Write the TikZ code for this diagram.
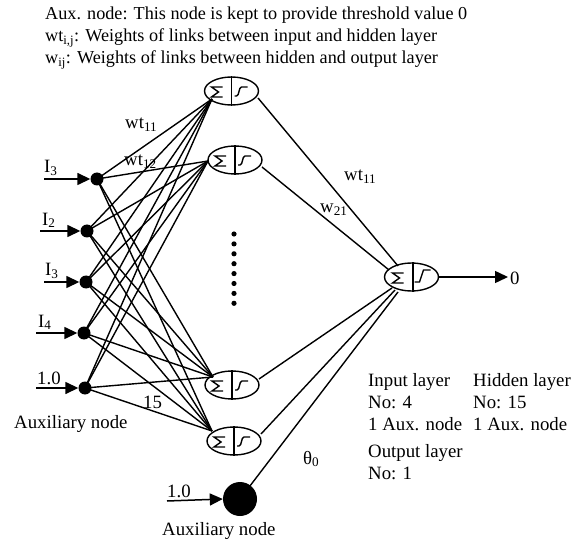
\documentclass[tikz,border=0pt]{standalone}
\usepackage{fontspec}
\setmainfont{Liberation Serif}
\usetikzlibrary{arrows.meta,shapes.geometric}
\begin{document}
\begin{tikzpicture}[x=1pt,y=-1pt,
  unit/.style={draw,ellipse,line width=1.4pt,minimum width=54pt,minimum height=28pt,inner sep=0pt},
  indot/.style={circle,fill=black,minimum size=13pt,inner sep=0pt},
  link/.style={line width=1.4pt},
  inarrow/.style={line width=1.5pt,-{Triangle[length=13pt,width=12pt]}},
  txt/.style={font=\fontsize{18.2}{21}\selectfont,inner sep=0pt},
  lbl/.style={font=\fontsize{18.8}{21}\selectfont,inner sep=0pt}]
\useasboundingbox (0,0) rectangle (578,545);
% legend
\node[txt,anchor=base west] (leg1) at (45,20) {Aux. node: This node is kept to provide threshold value 0};
\node[txt,anchor=base west] (leg2) at (45,42) {wt\textsubscript{i,j}: Weights of links between input and hidden layer};
\node[txt,anchor=base west] (leg3) at (45,64) {w\textsubscript{ij}: Weights of links between hidden and output layer};
% hidden units
\node[unit] (h1) at (231.5,91) {};
\node[unit] (h2) at (235,160) {};
\node[unit] (h3) at (232,385) {};
\node[unit] (h4) at (234,441) {};
\node[unit] (out) at (411.5,277) {};
% internals
\foreach \n in {h1,h2,h3,h4}{
  \draw[line width=1.4pt] (\n.north) -- (\n.south);
  \draw[line width=1.4pt] ([shift={(-9,-4)}]\n.center) -- ([shift={(-20,-4)}]\n.center) -- ([shift={(-13,1)}]\n.center) -- ([shift={(-20,6)}]\n.center) -- ([shift={(-9,6)}]\n.center);
  \draw[line width=1.4pt] ([shift={(3,5)}]\n.center) -- ([shift={(5,5)}]\n.center) .. controls ([shift={(8,5)}]\n.center) and ([shift={(7,-4)}]\n.center) .. ([shift={(10,-4)}]\n.center) -- ([shift={(16,-4)}]\n.center);
}
\draw[line width=1.4pt] ([xshift=1.5pt]out.north) -- ([xshift=1.5pt]out.south);
\draw[line width=1.4pt] ([shift={(-8,-4)}]out.center) -- ([shift={(-19,-4)}]out.center) -- ([shift={(-12,1)}]out.center) -- ([shift={(-19,6)}]out.center) -- ([shift={(-8,6)}]out.center);
\draw[line width=1.4pt] ([shift={(3,5)}]out.center) -- ([shift={(8,5)}]out.center) -- ([shift={(12,-7)}]out.center) -- ([shift={(19,-7)}]out.center);
% link end points on hidden units
\coordinate (h1in) at (212,99);
\coordinate (h2in) at (208,161);
\coordinate (h3in) at (213,377);
\coordinate (h4in) at (212,431);
% input dots
\node[indot] (i1) at (97,179) {};
\node[indot] (i2) at (87,231) {};
\node[indot] (i3) at (86,282) {};
\node[indot] (i4) at (84,333) {};
\node[indot] (i5) at (85,388) {};
% input arrows
\coordinate (a1) at (44,179);
\coordinate (a2) at (40,231);
\coordinate (a3) at (44,282);
\coordinate (a4) at (36,333);
\coordinate (a5) at (36,388);
\foreach \k in {1,...,5}{\draw[inarrow] (a\k) -- (i\k);}
\node[lbl,anchor=south west] (l1) at (44,176) {I\textsubscript{3}};
\node[lbl,anchor=south west] (l2) at (42,228) {I\textsubscript{2}};
\node[lbl,anchor=south west] (l3) at (45,279) {I\textsubscript{3}};
\node[lbl,anchor=south west] (l4) at (38,330) {I\textsubscript{4}};
\node[lbl,anchor=south west] (l5) at (37,385) {1.0};
\node[lbl,anchor=base west] (auxl) at (14,428) {Auxiliary node};
% input -> hidden links
\foreach \k in {1,...,5}{
  \foreach \h in {h1in,h2in,h3in,h4in}{
    \draw[link] (i\k.center) -- (\h);
  }
}
% dots
\foreach \j in {0,...,7}{\fill (234,234+9.9*\j) circle (2.6pt);}
% hidden -> output
\coordinate (o1) at (398,266);
\coordinate (o2) at (389,270);
\coordinate (o3) at (392,288);
\coordinate (o4) at (395,290);
\coordinate (o5) at (398,292);
\coordinate (e1) at (258,98);
\coordinate (e2) at (262,167);
\coordinate (e3) at (259,379);
\coordinate (e4) at (261,434);
\draw[link] (e1) -- (o1);
\draw[link] (e2) -- (o2);
\draw[link] (e3) -- (o3);
\draw[link] (e4) -- (o4);
% auxiliary node
\node[circle,fill=black,minimum size=34pt,inner sep=0pt] (aux) at (240,499) {};
\draw[link] (aux.center) -- (o5);
\coordinate (ab) at (167,501);
\draw[inarrow] (ab) -- (aux.west);
\node[lbl,anchor=south west] (lb) at (167,498) {1.0};
\node[lbl,anchor=base west] (auxl2) at (162,535) {Auxiliary node};
% output arrow
\coordinate (oend) at (508,277);
\draw[inarrow] (out.east) -- (oend);
\node[lbl,anchor=west] (ozero) at (510,278) {0};
% weight labels
\node[lbl,anchor=base west] (w1) at (125,129) {wt\textsubscript{11}};
\node[lbl,anchor=base west] (w2) at (124,166) {wt\textsubscript{12}};
\node[lbl,anchor=base west] (w3) at (344,181) {wt\textsubscript{11}};
\node[lbl,anchor=base west] (w4) at (320,213) {w\textsubscript{21}};
\node[lbl,anchor=base west] (w5) at (143,408) {15};
\node[lbl,anchor=base west] (th) at (303,464) {θ\textsubscript{0}};
% info text
\node[lbl,anchor=base west] (t1) at (368,386) {Input layer};
\node[lbl,anchor=base west] (t2) at (368,408) {No: 4};
\node[lbl,anchor=base west] (t3) at (368,430) {1 Aux. node};
\node[lbl,anchor=base west] (t4) at (368,457) {Output layer};
\node[lbl,anchor=base west] (t5) at (368,479) {No: 1};
\node[lbl,anchor=base west] (t6) at (473,386) {Hidden layer};
\node[lbl,anchor=base west] (t7) at (473,408) {No: 15};
\node[lbl,anchor=base west] (t8) at (473,430) {1 Aux. node};
\end{tikzpicture}
\end{document}
